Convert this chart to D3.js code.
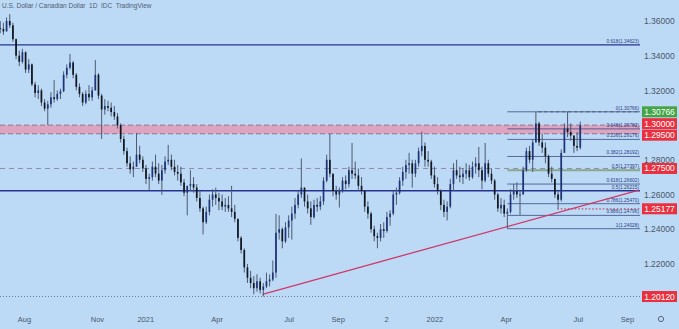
<!DOCTYPE html>
<html><head><meta charset="utf-8">
<script src="https://cdn.jsdelivr.net/npm/d3@7"></script>
<style>body{margin:0;background:#bcdaf6;}svg{display:block;font-family:"Liberation Sans",Arial,sans-serif;}</style>
</head><body><svg id="c" width="679" height="329"></svg>
<script>
// ---------- data ----------
const title = "U.S. Dollar / Canadian Dollar  1D  IDC  TradingView";
const startDate = "2020-07-02";
const stepDays = 4;
const firstOpen = 1.3560;
const highs = [
1.3600,1.3590,1.3620,1.3640,1.3590,1.3500,1.3430,1.3440,1.3425,1.3380,
1.3355,1.3250,1.3230,1.3210,1.3150,1.3140,1.3190,1.3260,1.3200,1.3210,
1.3310,1.3350,1.3410,1.3370,1.3300,1.3240,1.3190,1.3200,1.3230,1.3220,
1.3375,1.3300,1.3180,1.3150,1.3140,1.3130,1.3110,1.3070,1.3010,1.2940,
1.2870,1.2820,1.2790,1.2955,1.2880,1.2820,1.2770,1.2720,1.2790,1.2830,
1.2780,1.2770,1.2820,1.2886,1.2830,1.2800,1.2770,1.2760,1.2690,1.2640,
1.2740,1.2700,1.2660,1.2620,1.2530,1.2530,1.2600,1.2630,1.2640,1.2610,
1.2600,1.2580,1.2590,1.2650,1.2540,1.2460,1.2360,1.2290,1.2200,1.2160,
1.2130,1.2140,1.2120,1.2090,1.2150,1.2140,1.2220,1.2488,1.2480,1.2410,
1.2440,1.2480,1.2530,1.2580,1.2620,1.2808,1.2640,1.2600,1.2560,1.2570,
1.2580,1.2590,1.2700,1.2830,1.2949,1.2720,1.2650,1.2640,1.2700,1.2710,
1.2760,1.2897,1.2790,1.2750,1.2700,1.2620,1.2560,1.2500,1.2420,1.2380,
1.2430,1.2440,1.2500,1.2510,1.2620,1.2640,1.2700,1.2760,1.2800,1.2840,
1.2800,1.2800,1.2870,1.2962,1.2900,1.2850,1.2800,1.2760,1.2700,1.2630,
1.2570,1.2560,1.2690,1.2780,1.2800,1.2760,1.2750,1.2780,1.2770,1.2790,
1.2815,1.2874,1.2760,1.2897,1.2800,1.2750,1.2690,1.2610,1.2580,1.2570,
1.2520,1.2630,1.2660,1.2670,1.2620,1.2760,1.2870,1.2880,1.2920,1.3077,
1.3020,1.2950,1.2900,1.2830,1.2760,1.2690,1.2620,1.2860,1.3010,1.3078,
1.3010,1.2940,1.2960,1.3020];
const lows = [
1.3530,1.3520,1.3540,1.3560,1.3480,1.3380,1.3340,1.3355,1.3300,1.3300,
1.3225,1.3160,1.3150,1.3110,1.3080,1.3000,1.3100,1.3130,1.3140,1.3150,
1.3190,1.3270,1.3320,1.3270,1.3200,1.3160,1.3110,1.3120,1.3140,1.3140,
1.3230,1.3150,1.2920,1.3060,1.3080,1.3050,1.3030,1.2980,1.2900,1.2830,
1.2760,1.2720,1.2700,1.2770,1.2780,1.2730,1.2660,1.2627,1.2680,1.2700,
1.2660,1.2598,1.2720,1.2770,1.2740,1.2710,1.2680,1.2650,1.2590,1.2480,
1.2620,1.2610,1.2560,1.2500,1.2370,1.2430,1.2480,1.2530,1.2540,1.2510,
1.2510,1.2500,1.2500,1.2470,1.2440,1.2330,1.2260,1.2150,1.2090,1.2060,
1.2025,1.2040,1.2030,1.2012,1.2060,1.2070,1.2100,1.2120,1.2340,1.2290,
1.2320,1.2350,1.2340,1.2460,1.2520,1.2580,1.2530,1.2490,1.2425,1.2460,
1.2500,1.2510,1.2540,1.2670,1.2700,1.2590,1.2570,1.2525,1.2610,1.2630,
1.2640,1.2690,1.2690,1.2620,1.2600,1.2500,1.2460,1.2380,1.2330,1.2290,
1.2330,1.2350,1.2380,1.2420,1.2480,1.2540,1.2600,1.2650,1.2690,1.2720,
1.2640,1.2700,1.2760,1.2820,1.2760,1.2760,1.2690,1.2640,1.2600,1.2510,
1.2470,1.2450,1.2520,1.2620,1.2690,1.2670,1.2660,1.2690,1.2680,1.2690,
1.2720,1.2700,1.2630,1.2670,1.2700,1.2660,1.2570,1.2500,1.2490,1.2470,
1.2403,1.2490,1.2570,1.2580,1.2483,1.2600,1.2730,1.2780,1.2730,1.2900,
1.2880,1.2840,1.2780,1.2700,1.2670,1.2580,1.2518,1.2560,1.2840,1.2930,
1.2910,1.2840,1.2850,1.2860];
const closes = [
1.3555,1.3540,1.3600,1.3575,1.3495,1.3400,1.3365,1.3420,1.3320,1.3350,
1.3235,1.3185,1.3200,1.3130,1.3095,1.3120,1.3160,1.3150,1.3180,1.3195,
1.3290,1.3330,1.3360,1.3290,1.3220,1.3180,1.3130,1.3180,1.3160,1.3200,
1.3290,1.3170,1.3090,1.3110,1.3100,1.3075,1.3050,1.3000,1.2920,1.2850,
1.2780,1.2745,1.2760,1.2830,1.2800,1.2750,1.2690,1.2700,1.2760,1.2720,
1.2680,1.2740,1.2790,1.2800,1.2760,1.2730,1.2720,1.2670,1.2610,1.2650,
1.2660,1.2640,1.2580,1.2520,1.2440,1.2500,1.2570,1.2600,1.2580,1.2560,
1.2530,1.2540,1.2520,1.2500,1.2460,1.2350,1.2280,1.2180,1.2120,1.2090,
1.2060,1.2100,1.2050,1.2070,1.2100,1.2110,1.2150,1.2380,1.2400,1.2330,
1.2410,1.2450,1.2490,1.2540,1.2600,1.2640,1.2560,1.2520,1.2470,1.2540,
1.2530,1.2560,1.2680,1.2800,1.2720,1.2620,1.2600,1.2620,1.2680,1.2660,
1.2740,1.2720,1.2710,1.2650,1.2620,1.2530,1.2490,1.2400,1.2360,1.2350,
1.2400,1.2390,1.2470,1.2490,1.2600,1.2610,1.2680,1.2730,1.2770,1.2780,
1.2720,1.2780,1.2850,1.2880,1.2800,1.2790,1.2710,1.2660,1.2620,1.2540,
1.2500,1.2530,1.2660,1.2740,1.2710,1.2700,1.2720,1.2740,1.2700,1.2760,
1.2780,1.2740,1.2680,1.2780,1.2720,1.2680,1.2600,1.2520,1.2540,1.2490,
1.2500,1.2600,1.2620,1.2600,1.2600,1.2740,1.2850,1.2800,1.2900,1.3010,
1.2900,1.2870,1.2820,1.2720,1.2690,1.2600,1.2570,1.2840,1.2980,1.2960,
1.2940,1.2880,1.2870,1.3000];

const yTicks = [1.36, 1.34, 1.32, 1.28, 1.26, 1.24, 1.22];
const xTickDates = ["2020-08-01","2020-11-01","2021-01-01","2021-04-01","2021-07-01","2021-09-01","2021-11-01","2022-01-01","2022-04-01","2022-07-01","2022-09-01"];
const xTickLabels = ["Aug","Nov","2021","Apr","Jul","Sep","2","2022","Apr","Jul","Sep"];

const fibHigh = 1.30766, fibLow = 1.24028;
const fibRatios = [0, 0.146, 0.236, 0.382, 0.5, 0.618, 0.786, 0.886, 1];
const fibStartDate = "2022-04-03";
const longFibRatios = [0.618, 0.5];
const longFibPrices = [1.34623, 1.26215];
const zoneTop = 1.30, zoneBottom = 1.295;
const level1275 = 1.275;
const supportLevel = 1.25177, supportStart = "2022-06-05";
const highLevel = 1.30766, highStart = "2022-05-12";
const lowLevel = 1.2012;
const trendDates = ["2021-05-29", "2022-09-16"];
const trendPrices = [1.2025, 1.2625];
const axisLabelValues = [1.30766, 1.30, 1.295, 1.275, 1.25177, 1.2012];
const axisLabelKinds  = ["green", "red", "red", "red", "red", "red"];

// ---------- drawing ----------
const W = 679, H = 329, plotRight = 640;
const parse = d3.timeParse("%Y-%m-%d");
const x = d3.scaleTime().domain([parse("2020-08-01"), parse("2022-09-01")]).range([24, 627]);
const y = d3.scaleLinear().domain([1.36, 1.22]).range([21, 263.9]);
const svg = d3.select("#c");
svg.append("rect").attr("width", W).attr("height", H).attr("fill", "#bcdaf6");

const g = svg.append("g");

g.append("rect").attr("x", 0).attr("width", plotRight)
  .attr("y", y(zoneTop)).attr("height", y(zoneBottom) - y(zoneTop)).attr("fill", "#dea4c0");
[zoneTop, zoneBottom].forEach(v => g.append("line").attr("x1", 0).attr("x2", plotRight)
  .attr("y1", y(v)).attr("y2", y(v)).attr("stroke", "#857a92").attr("stroke-width", 1).attr("stroke-dasharray", "5,3"));

g.append("line").attr("x1", 0).attr("x2", plotRight).attr("y1", y(level1275)).attr("y2", y(level1275))
  .attr("stroke", "#9a88a8").attr("stroke-width", 1).attr("stroke-dasharray", "5,4");

g.append("line").attr("x1", 0).attr("x2", plotRight).attr("y1", y(lowLevel)).attr("y2", y(lowLevel))
  .attr("stroke", "#6c7c98").attr("stroke-width", 1).attr("stroke-dasharray", "1,2");

const fx0 = x(parse(fibStartDate));
fibRatios.forEach(r => {
  const p = fibHigh - r * (fibHigh - fibLow);
  const isHalf = r === 0.5;
  g.append("line").attr("x1", fx0).attr("x2", plotRight).attr("y1", y(p)).attr("y2", y(p))
    .attr("stroke", isHalf ? "#86ab8c" : "#3a4a82").attr("stroke-width", isHalf ? 2 : 0.8);
  g.append("text").attr("x", plotRight - 1).attr("y", y(p) - 2).attr("text-anchor", "end")
    .attr("font-size", 4.8).attr("fill", "#2b3a85")
    .text(`${r}(${p.toFixed(5)})`);
});

longFibRatios.forEach((r, i) => {
  const p = longFibPrices[i];
  g.append("line").attr("x1", 0).attr("x2", plotRight).attr("y1", y(p)).attr("y2", y(p))
    .attr("stroke", "#27338f").attr("stroke-width", 1.3);
  g.append("text").attr("x", plotRight - 1).attr("y", y(p) - 2).attr("text-anchor", "end")
    .attr("font-size", 4.8).attr("fill", "#2b3a85").text(`${r}(${p.toFixed(5)})`);
});

g.append("line").attr("x1", x(parse(highStart))).attr("x2", plotRight).attr("y1", y(highLevel)).attr("y2", y(highLevel))
  .attr("stroke", "#4a5a70").attr("stroke-width", 1).attr("stroke-dasharray", "3,3");
g.append("line").attr("x1", x(parse(supportStart))).attr("x2", plotRight).attr("y1", y(supportLevel)).attr("y2", y(supportLevel))
  .attr("stroke", "#c04a6a").attr("stroke-width", 1.2).attr("stroke-dasharray", "1.5,2");

g.append("line").attr("x1", x(parse(trendDates[0]))).attr("y1", y(trendPrices[0]))
  .attr("x2", x(parse(trendDates[1]))).attr("y2", y(trendPrices[1]))
  .attr("stroke", "#d0386a").attr("stroke-width", 1.3);

const candles = closes.map((c, i) => {
  const o = i === 0 ? firstOpen : closes[i - 1];
  return { date: d3.timeDay.offset(parse(startDate), i * stepDays), o, c,
    h: Math.max(highs[i], o, c), l: Math.min(lows[i], o, c) };
});
const cg = g.append("g");
cg.selectAll("line.w").data(candles).join("line").attr("class", "w")
  .attr("x1", d => x(d.date)).attr("x2", d => x(d.date))
  .attr("y1", d => y(d.h)).attr("y2", d => y(d.l))
  .attr("stroke", "#4e5a70").attr("stroke-width", 1);
cg.selectAll("rect.b").data(candles).join("rect").attr("class", "b")
  .attr("x", d => x(d.date) - 0.85).attr("width", 1.7)
  .attr("y", d => Math.min(y(d.o), y(d.c)))
  .attr("height", d => Math.max(1, Math.abs(y(d.o) - y(d.c))))
  .attr("fill", d => d.c >= d.o ? "#1f3478" : "#12161f");

const ya = svg.append("g").attr("transform", `translate(${plotRight},0)`)
  .call(d3.axisRight(y).tickValues(yTicks).tickFormat(d3.format(".5f")).tickSize(0).tickPadding(4));
ya.select(".domain").remove();
ya.selectAll("text").attr("font-size", 8.5).attr("fill", "#4a5668").attr("font-family", "Liberation Sans, Arial, sans-serif");

const xa = svg.append("g").attr("transform", `translate(0,314)`)
  .call(d3.axisBottom(x).tickValues(xTickDates.map(parse)).tickFormat((d, i) => xTickLabels[i]).tickSize(0).tickPadding(3));
xa.select(".domain").remove();
xa.selectAll("text").attr("font-size", 7.5).attr("fill", "#4a5668").attr("font-family", "Liberation Sans, Arial, sans-serif");
svg.append("circle").attr("cx", 661).attr("cy", 319).attr("r", 2.6).attr("fill", "none").attr("stroke", "#5a6678").attr("stroke-width", 1);

const lab = axisLabelValues.map((v, i) => ({ v, kind: axisLabelKinds[i], yy: y(v) })).sort((a, b) => a.yy - b.yy);
const hgt = 11.5;
for (let it = 0; it < 10; it++) {
  for (let i = 1; i < lab.length; i++) {
    const d = lab[i].yy - lab[i - 1].yy;
    if (d < hgt) { const s = (hgt - d) / 2; lab[i].yy += s; lab[i - 1].yy -= s; }
  }
}
const lg = svg.append("g");
lab.forEach(d => {
  lg.append("rect").attr("x", 642).attr("y", d.yy - 5.5).attr("width", 35).attr("height", 11)
    .attr("fill", d.kind === "green" ? "#45a546" : "#ea2f3e");
  lg.append("text").attr("x", 659.5).attr("y", d.yy + 3).attr("text-anchor", "middle")
    .attr("font-size", 8.5).attr("fill", "#ffffff").text(d3.format(".5f")(d.v));
});

svg.append("text").attr("x", 2).attr("y", 7.5).attr("font-size", 6.5).attr("fill", "#4f5d73")
  .attr("xml:space", "preserve").style("white-space", "pre").text(title);
</script></body></html>
